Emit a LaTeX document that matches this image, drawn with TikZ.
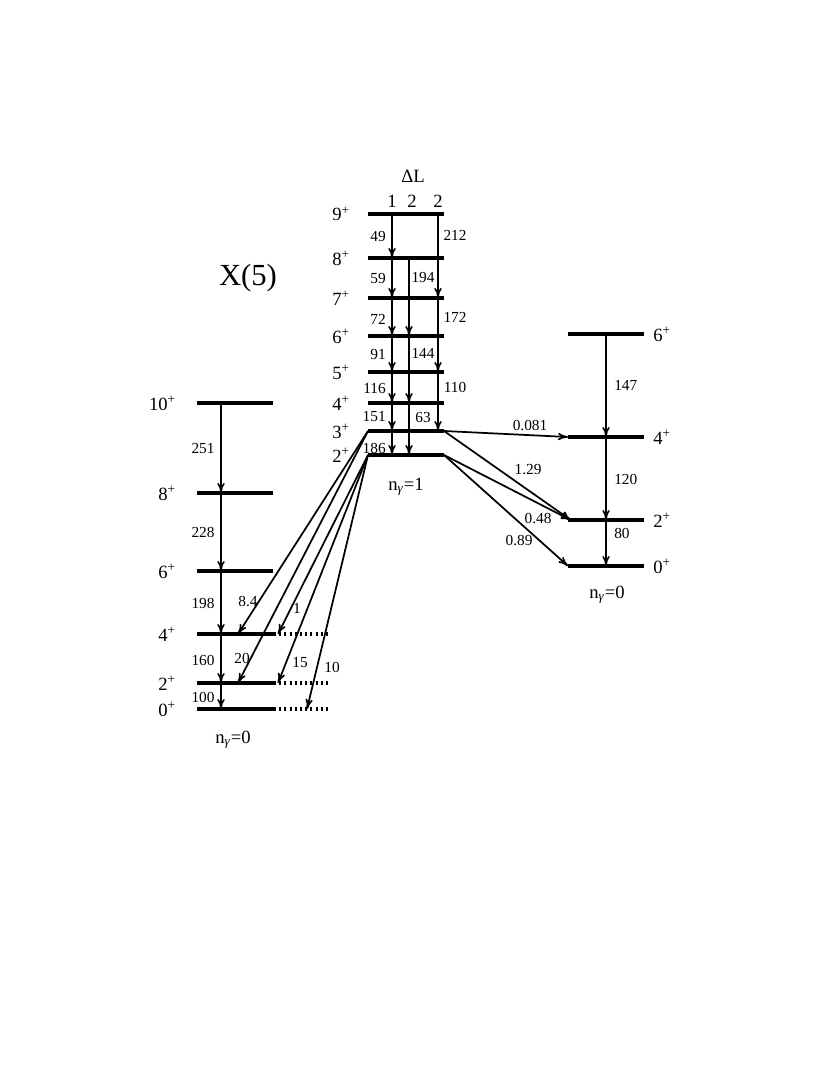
\documentclass[tikz,border=0pt]{standalone}
\usepackage{fontspec}
\setmainfont{Liberation Serif}
\usetikzlibrary{arrows.meta}

\begin{document}
\begin{tikzpicture}[
  x=0.75pt, y=-0.75pt,
  lev/.style={line width=2.4pt},
  ext/.style={line width=2.4pt, dash pattern=on 1.5pt off 2.4pt},
  tr/.style={line width=1.2pt, -{To[length=7.5pt, width=5.5pt]}},
  cross/.style={line width=1.3pt, -{To[length=7.5pt, width=5.5pt]}},
  jlab/.style={font=\fontsize{14}{16}\selectfont, inner sep=0pt},
  elab/.style={font=\fontsize{11.5}{13}\selectfont, inner sep=0pt}
]
  \useasboundingbox (0,0) rectangle (814,1066);

  % Title
  \node[font=\fontsize{23}{26}\selectfont, inner sep=0pt] (title) at (248,278) {X(5)};

  % Left band, n_gamma = 0
  \coordinate (g10) at (197,403);
  \coordinate (g8) at (197,493);
  \coordinate (g6) at (197,571);
  \coordinate (g4) at (197,634);
  \coordinate (g2) at (197,683);
  \coordinate (g0) at (197,709);
  \coordinate (gx) at (221,0);
  \draw[lev] (g10) -- ++(76,0);
  \draw[lev] (g8) -- ++(76,0);
  \draw[lev] (g6) -- ++(76,0);
  \draw[lev] (g4) -- ++(77,0);
  \draw[lev] (g2) -- ++(77,0);
  \draw[lev] (g0) -- ++(77,0);
  \draw[ext] (g4) ++(77,0) -- ++(55,0);
  \draw[ext] (g2) ++(77,0) -- ++(55,0);
  \draw[ext] (g0) ++(77,0) -- ++(55,0);
  \node[jlab, anchor=base east] (g10lab) at (176,410) {10\textsuperscript{+}};
  \node[jlab, anchor=base east] (g8lab) at (176,500) {8\textsuperscript{+}};
  \node[jlab, anchor=base east] (g6lab) at (176,578) {6\textsuperscript{+}};
  \node[jlab, anchor=base east] (g4lab) at (176,641) {4\textsuperscript{+}};
  \node[jlab, anchor=base east] (g2lab) at (176,690) {2\textsuperscript{+}};
  \node[jlab, anchor=base east] (g0lab) at (176,716) {0\textsuperscript{+}};
  \node[jlab, anchor=base] (gband) at (233,743) {n\textsubscript{\textit{γ}}=0};

  \draw[tr] (g10 -| gx) -- (g8 -| gx);
  \draw[tr] (g8 -| gx) -- (g6 -| gx);
  \draw[tr] (g6 -| gx) -- (g4 -| gx);
  \draw[tr] (g4 -| gx) -- (g2 -| gx);
  \draw[tr] (g2 -| gx) -- (g0 -| gx);
  \node[elab] (e251) at (203,448) {251};
  \node[elab] (e228) at (203,532) {228};
  \node[elab] (e198) at (203,603) {198};
  \node[elab] (e160) at (203,660) {160};
  \node[elab] (e100) at (203,697) {100};

  % Middle band, n_gamma = 1
  \coordinate (m9) at (368,214);
  \coordinate (m8) at (368,258);
  \coordinate (m7) at (368,298);
  \coordinate (m6) at (368,336);
  \coordinate (m5) at (368,372);
  \coordinate (m4) at (368,403);
  \coordinate (m3) at (368,431);
  \coordinate (m2) at (368,455);
  \coordinate (mr) at (444,0);
  \coordinate (c1) at (392,0);
  \coordinate (c2) at (409,0);
  \coordinate (c3) at (438,0);
  \draw[lev] (m9) -- (m9 -| mr);
  \draw[lev] (m8) -- (m8 -| mr);
  \draw[lev] (m7) -- (m7 -| mr);
  \draw[lev] (m6) -- (m6 -| mr);
  \draw[lev] (m5) -- (m5 -| mr);
  \draw[lev] (m4) -- (m4 -| mr);
  \draw[lev] (m3) -- (m3 -| mr);
  \draw[lev] (m2) -- (m2 -| mr);
  \node[jlab, anchor=base east] (m9lab) at (350,221) {9\textsuperscript{+}};
  \node[jlab, anchor=base east] (m8lab) at (350,265) {8\textsuperscript{+}};
  \node[jlab, anchor=base east] (m7lab) at (350,305) {7\textsuperscript{+}};
  \node[jlab, anchor=base east] (m6lab) at (350,343) {6\textsuperscript{+}};
  \node[jlab, anchor=base east] (m5lab) at (350,379) {5\textsuperscript{+}};
  \node[jlab, anchor=base east] (m4lab) at (350,410) {4\textsuperscript{+}};
  \node[jlab, anchor=base east] (m3lab) at (350,438) {3\textsuperscript{+}};
  \node[jlab, anchor=base east] (m2lab) at (350,462) {2\textsuperscript{+}};
  \node[jlab, anchor=base] (mband) at (406,490) {n\textsubscript{\textit{γ}}=1};
  \node[jlab] (dl) at (413,176) {ΔL};
  \node[jlab] (dl1) at (392,201) {1};
  \node[jlab] (dl2) at (412,201) {2};
  \node[jlab] (dl3) at (438,201) {2};

  % Delta L = 1
  \draw[tr] (m9 -| c1) -- (m8 -| c1);
  \draw[tr] (m8 -| c1) -- (m7 -| c1);
  \draw[tr] (m7 -| c1) -- (m6 -| c1);
  \draw[tr] (m6 -| c1) -- (m5 -| c1);
  \draw[tr] (m5 -| c1) -- (m4 -| c1);
  \draw[tr] (m4 -| c1) -- (m3 -| c1);
  \draw[tr] (m3 -| c1) -- (m2 -| c1);
  \node[elab, anchor=east] (e49) at (386,236) {49};
  \node[elab, anchor=east] (e59) at (386,278) {59};
  \node[elab, anchor=east] (e72) at (386,319) {72};
  \node[elab, anchor=east] (e91) at (386,354) {91};
  \node[elab, anchor=east] (e116) at (386,388) {116};
  \node[elab, anchor=east] (e151) at (386,417) {151};
  \node[elab, anchor=east] (e186) at (386,448) {186};

  % Delta L = 2
  \draw[tr] (m8 -| c2) -- (m6 -| c2);
  \draw[tr] (m6 -| c2) -- (m4 -| c2);
  \draw[tr] (m4 -| c2) -- (m2 -| c2);
  \draw[tr] (m9 -| c3) -- (m7 -| c3);
  \draw[tr] (m7 -| c3) -- (m5 -| c3);
  \draw[tr] (m5 -| c3) -- (m3 -| c3);
  \node[elab] (e194) at (423,277) {194};
  \node[elab] (e144) at (423,353) {144};
  \node[elab] (e63) at (423,417) {63};
  \node[elab] (e212) at (455,235) {212};
  \node[elab] (e172) at (455,317) {172};
  \node[elab] (e110) at (455,387) {110};

  % Interband to the left
  \coordinate (a4) at (238,634);
  \coordinate (a2) at (238,683);
  \coordinate (b4) at (278,634);
  \coordinate (b2) at (278,683);
  \coordinate (b0) at (307,709);
  \draw[cross] (m3) -- (a4);
  \draw[cross] (m3) -- (a2);
  \draw[cross] (m2) -- (b4);
  \draw[cross] (m2) -- (b2);
  \draw[cross] (m2) -- (b0);
  \node[elab] (e84) at (248,602) {8.4};
  \node[elab] (e20) at (242,658) {20};
  \node[elab] (e1) at (297,608) {1};
  \node[elab] (e15) at (300,663) {15};
  \node[elab] (e10) at (332,667) {10};

  % Right band, n_gamma = 0
  \coordinate (r6) at (568,334);
  \coordinate (r4) at (568,437);
  \coordinate (r2) at (568,520);
  \coordinate (r0) at (568,566);
  \coordinate (rx) at (606,0);
  \draw[lev] (r6) -- ++(76,0);
  \draw[lev] (r4) -- ++(76,0);
  \draw[lev] (r2) -- ++(76,0);
  \draw[lev] (r0) -- ++(76,0);
  \node[jlab, anchor=base west] (r6lab) at (653,341) {6\textsuperscript{+}};
  \node[jlab, anchor=base west] (r4lab) at (653,444) {4\textsuperscript{+}};
  \node[jlab, anchor=base west] (r2lab) at (653,527) {2\textsuperscript{+}};
  \node[jlab, anchor=base west] (r0lab) at (653,573) {0\textsuperscript{+}};
  \node[jlab, anchor=base] (rband) at (607,598) {n\textsubscript{\textit{γ}}=0};
  \draw[tr] (r6 -| rx) -- (r4 -| rx);
  \draw[tr] (r4 -| rx) -- (r2 -| rx);
  \draw[tr] (r2 -| rx) -- (r0 -| rx);
  \node[elab, anchor=west] (e147) at (614,385) {147};
  \node[elab, anchor=west] (e120) at (614,479) {120};
  \node[elab, anchor=west] (e80) at (614,533) {80};

  % Interband to the right
  \draw[cross] (m3 -| mr) -- (r4);
  \draw[cross] (m3 -| mr) -- ([xshift=2pt]r2);
  \draw[cross] (m2 -| mr) -- ([xshift=2pt]r2);
  \draw[cross] (m2 -| mr) -- (r0);
  \node[elab] (e0081) at (530,426) {0.081};
  \node[elab] (e129) at (528,470) {1.29};
  \node[elab] (e048) at (538,519) {0.48};
  \node[elab] (e089) at (519,541) {0.89};

\end{tikzpicture}
\end{document}
